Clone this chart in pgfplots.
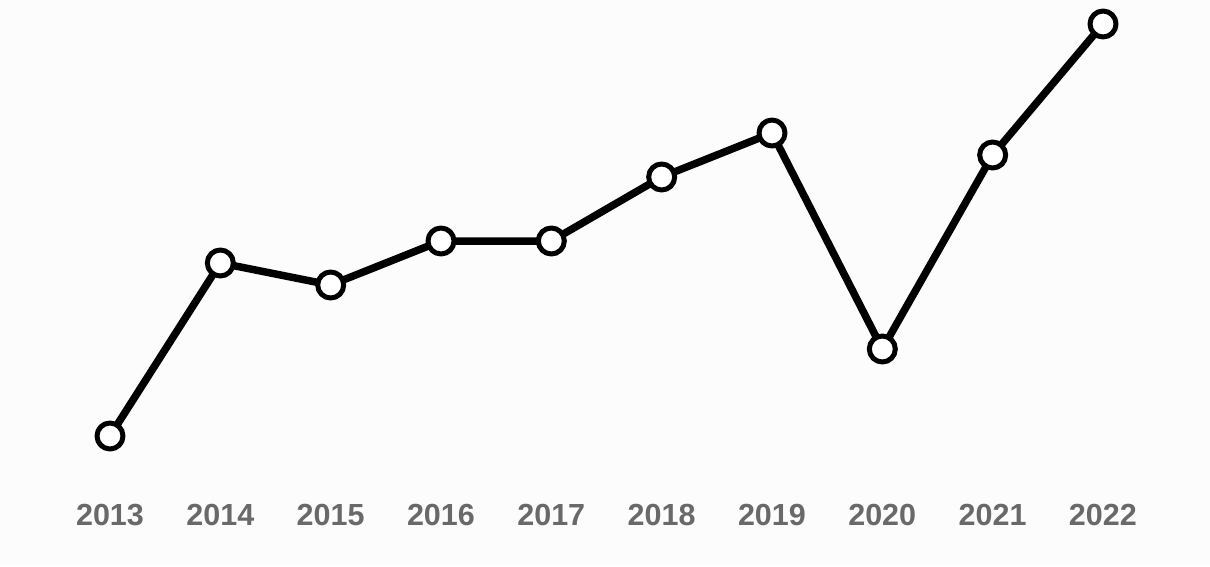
\documentclass[border=0pt]{standalone}
\usepackage{pgfplots}
\pgfplotsset{compat=1.18}
\usepackage{fontspec}
\setmainfont{Liberation Sans}
\definecolor{bg}{HTML}{FCFCFC}
\definecolor{lab}{HTML}{696969}
\begin{document}
\begin{tikzpicture}
\fill[bg] (0,0) rectangle (1210pt,566pt);
\begin{axis}[
  at={(110pt,130pt)}, anchor=south west,
  scale only axis, width=993pt, height=412pt,
  xmin=2013, xmax=2022, ymin=0, ymax=412,
  clip=false,
  axis line style={draw=none},
  major tick length=0pt,
  ytick=\empty,
  xtick={2013,...,2022},
  xticklabel={\pgfmathprintnumber[1000 sep={}]{\tick}},
  xticklabel style={anchor=center, yshift=-79pt, font=\fontsize{30.5}{33}\selectfont\bfseries, text=lab},
  /pgf/number format/assume math mode=true,
]
\addplot[line width=7.5pt, black, line join=round,
  mark=*, mark size=13pt, mark options={fill=white, draw=black, line width=5pt}]
  coordinates {
  (2013,0) (2014,173) (2015,151) (2016,195) (2017,195)
  (2018,259) (2019,303) (2020,87) (2021,281) (2022,412)
};
\end{axis}
\end{tikzpicture}
\end{document}
